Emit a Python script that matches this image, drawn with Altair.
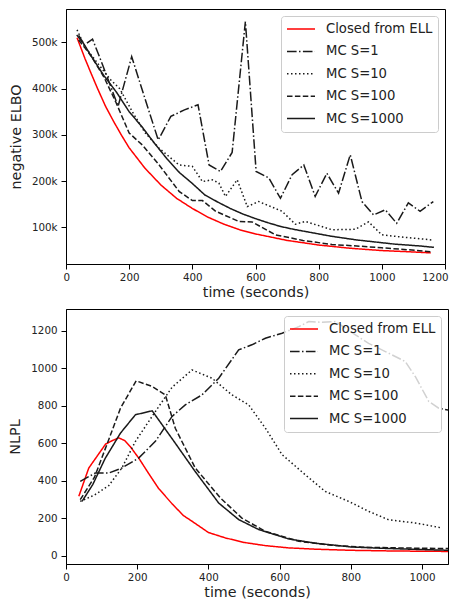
import altair as alt
import pandas as pd

series_names = ["Closed from ELL", "MC S=1", "MC S=10", "MC S=100", "MC S=1000"]
series_colors = ["#ff0000", "#1a1a1a", "#1a1a1a", "#1a1a1a", "#1a1a1a"]
series_dashes = [[1, 0], [9.6, 2.4, 1.5, 2.4], [1.5, 2.5], [5.5, 2.4], [1, 0]]

# ---------- top panel: negative ELBO ----------
elbo_closed_t = [35, 60, 80, 100, 125, 150, 175, 200, 250, 300, 350, 400, 450, 500, 550, 600, 700, 800, 900, 1000, 1100, 1155]
elbo_closed_v = [510, 465, 432, 400, 362, 330, 300, 272, 228, 192, 163, 141, 122, 107, 95, 86, 72, 62, 55, 50, 47, 45]

elbo_s1_t = [34, 58, 84, 116, 165, 208, 253, 292, 332, 375, 418, 453, 489, 526, 568, 602, 642, 679, 716, 753, 789, 826, 863, 900, 937, 974, 1011, 1047, 1084, 1121, 1163]
elbo_s1_v = [516, 494, 507, 451, 362, 469, 372, 289, 340, 354, 365, 235, 221, 262, 545, 221, 207, 163, 214, 235, 167, 217, 174, 257, 156, 127, 138, 109, 153, 135, 156]

elbo_s10_t = [35, 60, 100, 140, 170, 210, 250, 295, 358, 400, 432, 463, 484, 505, 542, 574, 610, 684, 726, 758, 842, 916, 958, 1000, 1053, 1158]
elbo_s10_v = [527, 490, 455, 420, 400, 350, 305, 271, 235, 232, 199, 203, 196, 167, 203, 145, 156, 135, 107, 113, 95, 96, 112, 84, 80, 73]

elbo_s100_t = [40, 60, 80, 120, 157, 200, 242, 295, 358, 400, 432, 474, 547, 589, 663, 750, 842, 920, 1000, 1080, 1158]
elbo_s100_v = [505, 488, 470, 425, 372, 304, 278, 235, 178, 158, 158, 135, 113, 112, 84, 72, 63, 60, 56, 52, 47]

elbo_s1000_t = [40, 80, 120, 160, 200, 240, 280, 320, 360, 400, 440, 480, 520, 560, 600, 640, 680, 720, 760, 800, 840, 880, 920, 960, 1000, 1040, 1080, 1120, 1165]
elbo_s1000_v = [515, 470, 428, 392, 350, 318, 282, 248, 218, 195, 170, 155, 141, 129, 119, 110, 102, 96, 91, 86, 81, 77, 73, 70, 67, 64, 62, 60, 57]

# ---------- bottom panel: NLPL ----------
nlpl_closed_t = [36, 64, 87, 111, 130, 148, 165, 181, 205, 232, 260, 298, 330, 354, 400, 448, 500, 560, 625, 700, 800, 900, 1000, 1080]
nlpl_closed_v = [318, 469, 531, 596, 615, 630, 615, 582, 520, 440, 360, 278, 215, 185, 125, 96, 72, 55, 43, 36, 30, 27, 25, 24]

nlpl_s1_t = [40, 82, 120, 157, 204, 251, 298, 335, 382, 429, 485, 522, 560, 607, 654, 682, 719, 757, 813, 850, 897, 953, 981, 1019, 1047, 1084]
nlpl_s1_v = [398, 442, 442, 469, 522, 611, 744, 806, 859, 948, 1099, 1126, 1161, 1188, 1223, 1250, 1246, 1250, 1179, 1134, 1090, 1037, 957, 824, 788, 774]

nlpl_s10_t = [40, 80, 120, 157, 195, 251, 298, 354, 410, 466, 513, 560, 607, 672, 728, 794, 850, 906, 981, 1056]
nlpl_s10_v = [291, 325, 375, 469, 611, 770, 900, 992, 948, 859, 806, 682, 540, 433, 344, 291, 238, 193, 176, 149]

nlpl_s100_t = [40, 80, 120, 153, 197, 242, 279, 307, 363, 434, 494, 560, 654, 747, 841, 960, 1080]
nlpl_s100_v = [300, 420, 620, 788, 934, 904, 859, 681, 469, 309, 202, 131, 78, 57, 46, 42, 39]

nlpl_s1000_t = [45, 75, 110, 153, 195, 242, 300, 363, 429, 485, 541, 625, 700, 800, 900, 1000, 1080]
nlpl_s1000_v = [291, 380, 520, 655, 753, 774, 620, 450, 282, 194, 141, 91, 68, 48, 40, 34, 30]


def make_df(groups, scale=1.0):
    rows = []
    for name, (ts, vs) in zip(series_names, groups):
        for t, v in zip(ts, vs):
            rows.append({"series": name, "time": t, "value": v * scale})
    return pd.DataFrame(rows)


elbo_df = make_df([
    (elbo_closed_t, elbo_closed_v), (elbo_s1_t, elbo_s1_v), (elbo_s10_t, elbo_s10_v),
    (elbo_s100_t, elbo_s100_v), (elbo_s1000_t, elbo_s1000_v)], scale=1000.0)
nlpl_df = make_df([
    (nlpl_closed_t, nlpl_closed_v), (nlpl_s1_t, nlpl_s1_v), (nlpl_s10_t, nlpl_s10_v),
    (nlpl_s100_t, nlpl_s100_v), (nlpl_s1000_t, nlpl_s1000_v)])

legend = alt.Legend(
    title=None, orient="top-right", offset=7,
    symbolType="stroke", symbolSize=784, symbolStrokeWidth=1.5,
    labelFont="DejaVu Sans", labelFontSize=13.2, labelColor="#222222",
    labelOffset=10, clipHeight=16, rowPadding=6.4, padding=5, labelLimit=300,
    strokeColor="#cccccc", fillColor="rgba(255,255,255,0.8)", cornerRadius=3,
)


def panel(df, xdom, xticks, ydom, yticks, ytitle, yformat, width, height, flush):
    return alt.Chart(df).mark_line(strokeWidth=1.5, clip=True).encode(
        x=alt.X("time:Q", scale=alt.Scale(domain=xdom, nice=False, zero=False),
                axis=alt.Axis(values=xticks, title="time (seconds)", format="d",
                              labelFlush=flush, labelFlushOffset=3)),
        y=alt.Y("value:Q", scale=alt.Scale(domain=ydom, nice=False, zero=False),
                axis=alt.Axis(values=yticks, format=yformat, title=ytitle)),
        color=alt.Color("series:N", scale=alt.Scale(domain=series_names, range=series_colors), legend=legend),
        strokeDash=alt.StrokeDash("series:N", scale=alt.Scale(domain=series_names, range=series_dashes), legend=legend),
    ).properties(width=width, height=height)


top = panel(elbo_df, [0, 1200], [0, 200, 400, 600, 800, 1000, 1200],
            [21000, 572000], [100000, 200000, 300000, 400000, 500000],
            "negative ELBO", "~s", 379, 255, True)
bottom = panel(nlpl_df, [0, 1073], [0, 200, 400, 600, 800, 1000],
               [-43, 1317], [0, 200, 400, 600, 800, 1000, 1200],
               "NLPL", "d", 382, 255, False)

chart = alt.vconcat(top, bottom, spacing=45, bounds="flush").resolve_scale(
    color="independent", strokeDash="independent"
).resolve_legend(
    color="independent", strokeDash="independent"
).properties(
    padding={"left": 0, "top": 0, "right": 0, "bottom": 0}
).configure_axis(
    labelFont="DejaVu Sans", labelFontSize=10.3, labelColor="#222222",
    titleFont="DejaVu Sans", titleFontSize=14.3, titleFontWeight="normal", titleColor="#222222",
    tickColor="#000000", domainColor="#000000", tickSize=5, grid=False,
).configure_axisX(
    labelPadding=3, titlePadding=3
).configure_axisY(
    labelPadding=4, titlePadding=8
).configure_view(
    stroke="#000000", strokeWidth=1
)

chart.save("out.html", embed_options={"renderer": "svg", "actions": False})
